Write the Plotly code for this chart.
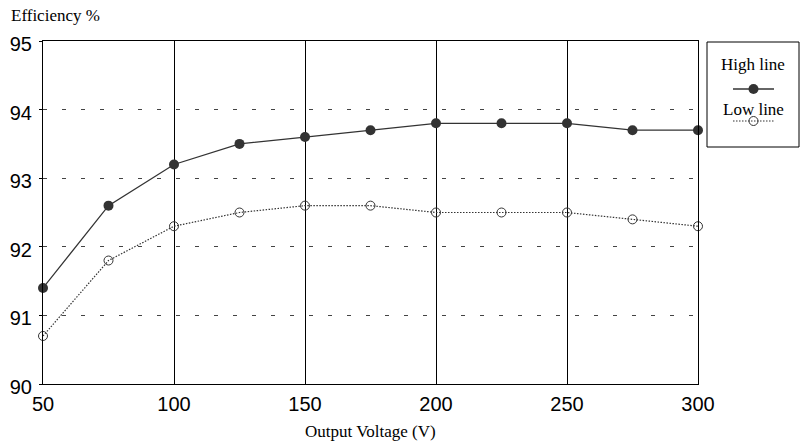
import plotly.graph_objects as go

voltage = [50, 75, 100, 125, 150, 175, 200, 225, 250, 275, 300]
high_line = [91.4, 92.6, 93.2, 93.5, 93.6, 93.7, 93.8, 93.8, 93.8, 93.7, 93.7]
low_line = [90.7, 91.8, 92.3, 92.5, 92.6, 92.6, 92.5, 92.5, 92.5, 92.4, 92.3]
x_ticks = [50, 100, 150, 200, 250, 300]
y_ticks = [90, 91, 92, 93, 94, 95]

W, H = 804, 448
L, R, T, B = 43, 0, 41, 64
PW = W - L - R
PH = H - T - B


def px(x):
    return (x - L) / PW


def py(y):
    return (H - B - y) / PH


DOT = "1.5px,1.5px"
SERIF = "Liberation Serif, Times New Roman"
SANS = "Liberation Sans, Arial"

fig = go.Figure()
fig.add_trace(go.Scatter(x=voltage, y=high_line, mode="lines+markers", name="High line",
                         line=dict(color="#333333", width=1.3),
                         marker=dict(size=10, color="#333333", symbol="circle"),
                         cliponaxis=False, showlegend=False))
fig.add_trace(go.Scatter(x=voltage, y=low_line, mode="lines+markers", name="Low line",
                         line=dict(color="#333333", width=1.2, dash=DOT),
                         marker=dict(size=9, symbol="circle-open", color="#333333", line=dict(width=1)),
                         cliponaxis=False, showlegend=False))

# legend samples drawn on a small auxiliary axis
fig.add_trace(go.Scatter(x=[0, 1], y=[0.75, 0.75], mode="lines", xaxis="x2", yaxis="y2",
                         line=dict(color="#333333", width=1.3), showlegend=False, hoverinfo="skip"))
fig.add_trace(go.Scatter(x=[0.5], y=[0.75], mode="markers", xaxis="x2", yaxis="y2",
                         marker=dict(size=10, color="#333333"), showlegend=False, hoverinfo="skip"))
fig.add_trace(go.Scatter(x=[0, 1], y=[0.25, 0.25], mode="lines", xaxis="x2", yaxis="y2",
                         line=dict(color="#333333", width=1.2, dash=DOT), showlegend=False, hoverinfo="skip"))
fig.add_trace(go.Scatter(x=[0.5], y=[0.25], mode="markers", xaxis="x2", yaxis="y2",
                         marker=dict(size=9, symbol="circle-open", color="#333333", line=dict(width=1)),
                         showlegend=False, hoverinfo="skip"))

fig.update_layout(
    width=W, height=H, autosize=False,
    margin=dict(l=L, r=R, t=T, b=B),
    plot_bgcolor="rgba(0,0,0,0)", paper_bgcolor="white",
    font=dict(family=SANS, color="black"),
    xaxis=dict(range=[50, 300], tickvals=x_ticks, ticks="", showline=True, linecolor="black",
               linewidth=1, mirror=True, showgrid=True, gridcolor="black", gridwidth=1,
               tickfont=dict(size=20, family=SANS), zeroline=False,
               automargin=False, ticklabelstandoff=2,
               domain=[0, px(698)]),
    yaxis=dict(range=[90, 95], tickvals=y_ticks, ticks="outside", ticklen=3, tickcolor="black",
               showline=True, linecolor="black",
               linewidth=1, mirror=True, showgrid=True, gridcolor="#444444", gridwidth=1,
               griddash="4px,15px", tickfont=dict(size=20, family=SANS),
               ticklabelstandoff=3, ticklabelshift=3,
               zeroline=False, automargin=False),
    xaxis2=dict(domain=[px(733), px(774)], range=[0, 1], visible=False, anchor="y2", automargin=False),
    yaxis2=dict(domain=[py(137), py(73)], range=[0, 1], visible=False, anchor="x2", automargin=False),
    shapes=[dict(type="rect", xref="paper", yref="paper",
                 x0=px(707), x1=px(799), y0=py(147), y1=py(42),
                 line=dict(color="black", width=1))],
    annotations=[
        dict(text="Efficiency %", xref="paper", yref="paper", x=px(9), y=py(15),
             xanchor="left", yanchor="middle", showarrow=False,
             font=dict(family=SERIF, size=17)),
        dict(text="Output Voltage (V)", xref="paper", yref="paper", x=px(370), y=py(431),
             xanchor="center", yanchor="middle", showarrow=False,
             font=dict(family=SERIF, size=17)),
        dict(text="High line", xref="paper", yref="paper", x=px(753), y=py(64),
             xanchor="center", yanchor="middle", showarrow=False,
             font=dict(family=SERIF, size=17)),
        dict(text="Low line", xref="paper", yref="paper", x=px(753), y=py(109),
             xanchor="center", yanchor="middle", showarrow=False,
             font=dict(family=SERIF, size=17)),
    ],
)

fig.write_html("out.html", config={"responsive": False})
